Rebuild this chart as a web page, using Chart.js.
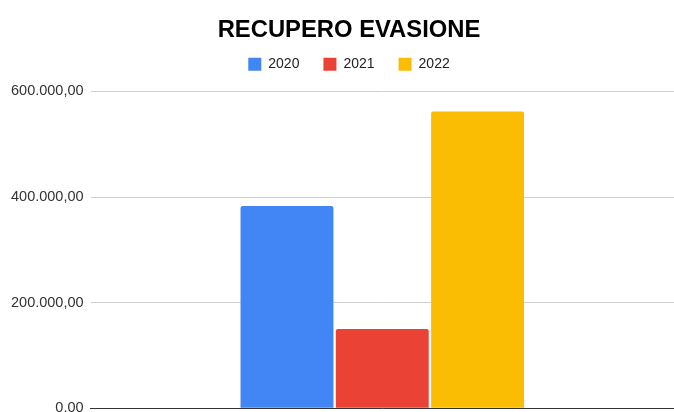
<!DOCTYPE html>
<html>
<head>
<meta charset="utf-8">
<script src="https://cdn.jsdelivr.net/npm/chart.js@4"></script>
<style>
  html, body { margin: 0; padding: 0; background: #fff; overflow: hidden; }
  #wrap { width: 674px; height: 424px; }
</style>
</head>
<body>
<div id="wrap"><canvas id="myChart"></canvas></div>
<script>
Chart.defaults.font.family = "'Liberation Sans', Arial, sans-serif";
Chart.defaults.color = '#333';

const categories = [''];
const years = ['2020', '2021', '2022'];
const values2020 = [383000];
const values2021 = [150000];
const values2022 = [562000];
const yTicks = [0, 200000, 400000, 600000];
const colors = ['#4285f4', '#ea4335', '#fbbc04'];

// italian number format: 600.000,00
function fmt(v) {
  const int = Math.round(v).toString().replace(/\B(?=(\d{3})+(?!\d))/g, '.');
  return int + ',00';
}

const data = {
  labels: categories,
  datasets: [values2020, values2021, values2022].map((vals, i) => ({
    label: years[i],
    data: vals,
    backgroundColor: colors[i],
    borderWidth: 0,
    borderRadius: 2,
    borderSkipped: 'bottom',
    categoryPercentage: 0.49,
    barPercentage: 0.975
  }))
};

// extra space under the legend
const legendMargin = {
  id: 'legendMargin',
  beforeInit(chart) {
    const fit = chart.legend.fit;
    chart.legend.fit = function () {
      fit.bind(chart.legend)();
      this.height += 10;
    };
  }
};

const config = {
  type: 'bar',
  data: data,
  plugins: [legendMargin],
  options: {
    responsive: true,
    maintainAspectRatio: false,
    animation: false,
    layout: { padding: { left: 4, right: -20, top: 0, bottom: 0 } },
    plugins: {
      title: {
        display: true,
        text: 'RECUPERO EVASIONE',
        color: '#000',
        font: { size: 23.8, weight: 'bold' },
        padding: { top: 16, bottom: -11.2 }
      },
      legend: {
        labels: {
          boxWidth: 13,
          boxHeight: 13,
          color: '#222',
          font: { size: 14 },
          padding: 24
        }
      },
      tooltip: { enabled: false }
    },
    scales: {
      x: {
        grid: { display: false },
        border: { display: true, color: '#333', width: 1 },
        ticks: { display: false }
      },
      y: {
        min: yTicks[0],
        max: yTicks[yTicks.length - 1],
        afterBuildTicks: (axis) => { axis.ticks = yTicks.map(v => ({ value: v })); },
        grid: { color: '#d0d0d0', drawTicks: false },
        border: { display: false },
        ticks: {
          padding: 7,
          color: '#333',
          font: { size: 14.5 },
          callback: (v) => fmt(v)
        }
      }
    }
  }
};

const myChart = new Chart(document.getElementById('myChart'), config);
</script>
</body>
</html>
